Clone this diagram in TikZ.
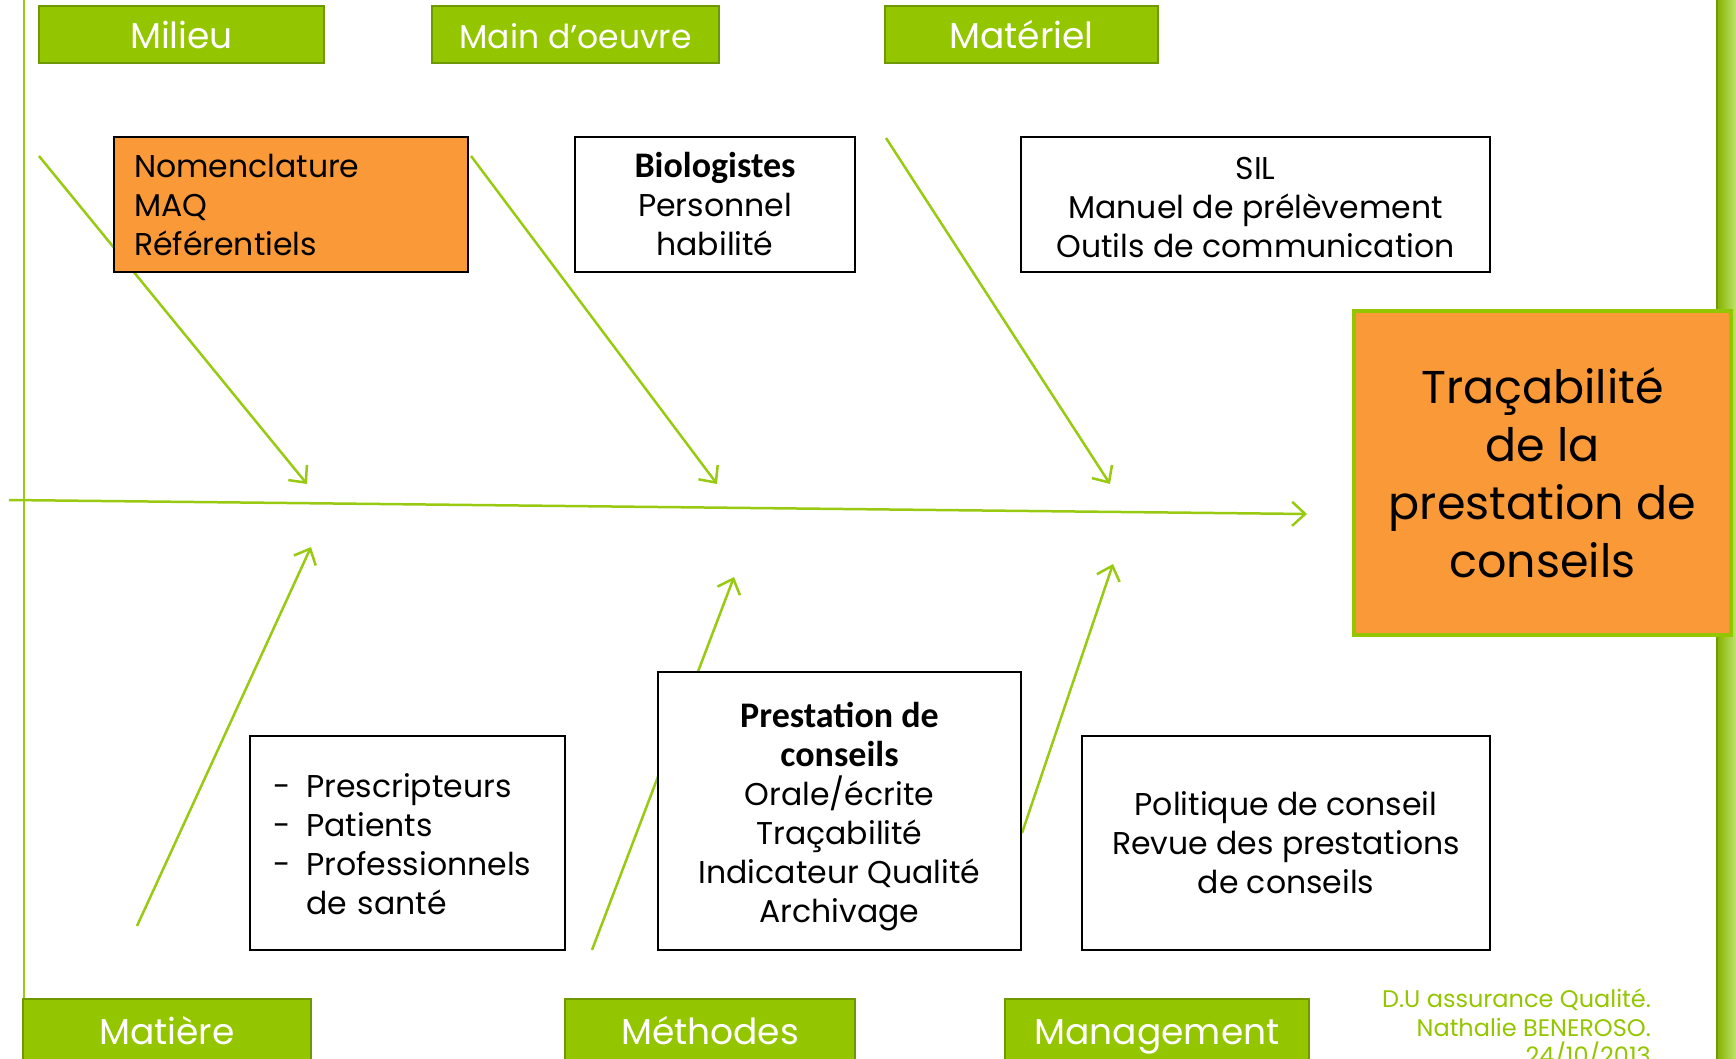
\documentclass[tikz,border=0pt]{standalone}
\usepackage{fontspec}
\setmainfont{Poppins}
\newfontfamily\calib{Carlito}
\usetikzlibrary{arrows.meta}
\definecolor{vert}{RGB}{148,198,0}
\definecolor{vertfonce}{RGB}{112,152,0}
\definecolor{vertclair}{RGB}{190,228,110}
\definecolor{orangeb}{RGB}{250,153,56}
\definecolor{fleche}{RGB}{152,202,18}

\begin{document}
\begin{tikzpicture}[x=1pt,y=-1pt,
    head/.style={draw=vertfonce, line width=2.5pt, fill=vert, text=white, inner sep=0pt,
        minimum height=57pt, text height=34pt, text depth=6pt, font=\fontsize{36}{38}\selectfont},
    box/.style={draw=black, line width=2.5pt, fill=white, inner sep=0pt, align=center,
        font=\fontsize{31.5}{39}\selectfont},
    gras/.style={font=\calib\bfseries\fontsize{36}{39}\selectfont},
    arr/.style={draw=fleche, line width=2.5pt, -{Straight Barb[length=13pt,width=24pt]}},
    pied/.style={anchor=base east, text=vert, inner sep=0pt, font=\fontsize{24}{29}\selectfont}]

    \useasboundingbox (0,0) rectangle (1736,1059);
    \clip (0,0) rectangle (1736,1059);

    % bords de la diapo
    \draw[fleche, line width=2.5pt] (24,0) -- (24,999);
    \shade[left color=vert!90!black, right color=vertclair] (1717,0) rectangle (1736,1059);
    \draw[vertfonce, line width=1.5pt] (1717,0) -- (1717,1059);

    % arete centrale
    \coordinate (sp0) at (9,500);
    \coordinate (sp1) at (1307,514);
    \draw[arr] (sp0) -- (sp1);

    % aretes du haut et du bas
    \coordinate (h1a) at (39,156);   \coordinate (h1b) at (307,484);
    \coordinate (h2a) at (471,156);  \coordinate (h2b) at (717,484);
    \coordinate (h3a) at (886,138);  \coordinate (h3b) at (1110,484);
    \coordinate (b1a) at (137,926);  \coordinate (b1b) at (311,547);
    \coordinate (b2a) at (592,950);  \coordinate (b2b) at (734,577);
    \coordinate (b3a) at (1022,833); \coordinate (b3b) at (1113,564);
    \foreach \a in {h1,h2,h3,b1,b2,b3} \draw[arr] (\a a) -- (\a b);

    % categories
    \node[head, minimum width=285pt] (milieu) at (181.5,34.5) {Milieu};
    \node[head, minimum width=287pt, font=\fontsize{33}{38}\selectfont] (main) at (575.5,34.5) {Main d’oeuvre};
    \node[head, minimum width=273pt] (materiel) at (1021.5,34.5) {Matériel};
    \node[head, minimum width=288pt, minimum height=62pt] (matiere) at (167,1030) {Matière};
    \node[head, minimum width=290pt, minimum height=62pt] (methodes) at (710,1030) {Méthodes};
    \node[head, minimum width=304pt, minimum height=62pt] (management) at (1157,1030) {Management};

    % causes
    \node[box, fill=orangeb, minimum width=354pt, minimum height=135pt, text width=314pt, align=left]
        (nomen) at (291,204.5) {Nomenclature\\MAQ\\Référentiels};
    \node[box, minimum width=280pt, minimum height=135pt] (bio) at (715,204.5)
        {{\calib\bfseries\fontsize{36}{39}\selectfont Biologistes}\\Personnel\\habilité};
    \node[box, minimum width=469pt, minimum height=135pt] (sil) at (1255.5,204.5)
        {\rule{0pt}{28pt}SIL\\Manuel de prélèvement\\Outils de communication};
    \node[box, minimum width=315pt, minimum height=214pt, text width=269pt, align=left] (prescr) at (407.5,843)
        {\raisebox{-5pt}[\height][\depth]{\begin{tabular}{@{}l@{\hspace{16pt}}l@{}}
            -&Prescripteurs\\ -&Patients\\ -&Professionnels\\ &de santé
        \end{tabular}}};
    \node[box, minimum width=363pt, minimum height=278pt] (prest) at (839.5,811)
        {{\calib\bfseries\fontsize{36}{39}\selectfont\rule{0pt}{36pt}Prestation de}\\
         {\calib\bfseries\fontsize{36}{39}\selectfont conseils}\\
         Orale/écrite\\Traçabilité\\Indicateur Qualité\\Archivage};
    \node[box, minimum width=408pt, minimum height=214pt] (poli) at (1286,843)
        {Politique de conseil\\Revue des prestations\\de conseils};

    % effet
    \node[box, draw=vert, line width=3.5pt, fill=orangeb, minimum width=377pt, minimum height=324pt,
        font=\fontsize{46}{58}\selectfont] (effet) at (1542.5,473)
        {Traçabilité\\de la\\prestation de\\conseils};

    \foreach \t [count=\i] in {D.U assurance Qualité., Nathalie BENEROSO., 24/10/2013}
        \node[pied] (pied\i) at (1651,979+28.5*\i) {\t};

\end{tikzpicture}
\end{document}
